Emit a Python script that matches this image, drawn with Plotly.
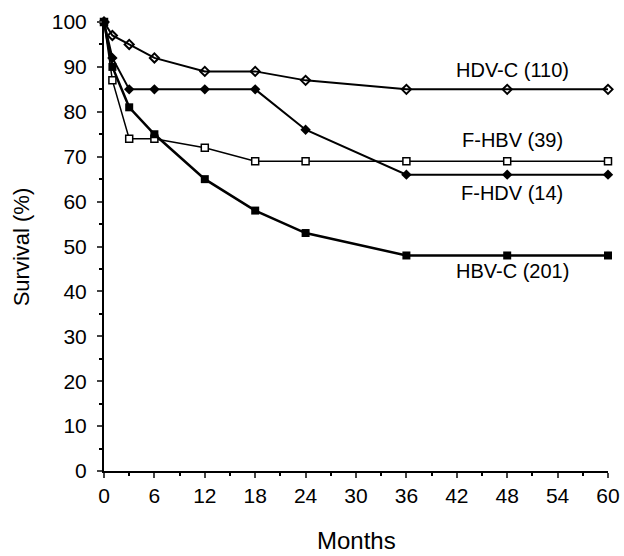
import plotly.graph_objects as go

months = [0, 1, 3, 6, 12, 18, 24, 36, 48, 60]
hdv_c = [100, 97, 95, 92, 89, 89, 87, 85, 85, 85]
f_hdv = [100, 92, 85, 85, 85, 85, 76, 66, 66, 66]
f_hbv = [100, 87, 74, 74, 72, 69, 69, 69, 69, 69]
hbv_c = [100, 90, 81, 75, 65, 58, 53, 48, 48, 48]

labels = ["HDV-C (110)", "F-HBV (39)", "F-HDV (14)", "HBV-C (201)"]
label_x = [48.6, 48.6, 48.6, 48.6]
label_y = [89.3, 73.7, 61.9, 44.5]

x_ticks = [0, 6, 12, 18, 24, 30, 36, 42, 48, 54, 60]
y_ticks = [0, 10, 20, 30, 40, 50, 60, 70, 80, 90, 100]

FONT = "Liberation Sans, Arial, Helvetica"

fig = go.Figure()
fig.add_trace(go.Scatter(x=months, y=hdv_c, mode="lines+markers", cliponaxis=False,
                         line=dict(color="black", width=2),
                         marker=dict(symbol="diamond-open", size=7, color="black", line=dict(width=2))))
fig.add_trace(go.Scatter(x=months, y=f_hdv, mode="lines+markers", cliponaxis=False,
                         line=dict(color="black", width=2),
                         marker=dict(symbol="diamond", size=8, color="black")))
fig.add_trace(go.Scatter(x=months, y=f_hbv, mode="lines+markers", cliponaxis=False,
                         line=dict(color="black", width=1.5),
                         marker=dict(symbol="square", size=7, color="white", line=dict(color="black", width=1.5))))
fig.add_trace(go.Scatter(x=months, y=hbv_c, mode="lines+markers", cliponaxis=False,
                         line=dict(color="black", width=2.5),
                         marker=dict(symbol="square", size=8, color="black")))

for t, lx, ly in zip(labels, label_x, label_y):
    fig.add_annotation(x=lx, y=ly, text=t, showarrow=False,
                       font=dict(family=FONT, size=20, color="black"))

fig.add_annotation(xref="paper", yref="paper", x=0.5, y=-0.155, text="Months",
                   showarrow=False, xanchor="center", yanchor="middle", borderpad=0,
                   font=dict(family=FONT, size=24, color="black"))
fig.add_annotation(xref="paper", yref="paper", x=-0.163, y=0.5, text="Survival (%)",
                   showarrow=False, xanchor="center", yanchor="middle", textangle=-90,
                   font=dict(family=FONT, size=22, color="black"))

fig.update_layout(
    width=624, height=556, showlegend=False,
    plot_bgcolor="white", paper_bgcolor="white",
    margin=dict(l=104, r=16, t=22, b=85, autoexpand=False),
    font=dict(family=FONT, color="black"),
)
fig.update_xaxes(range=[0, 60], tickvals=x_ticks, ticks="outside", ticklen=5, tickwidth=2,
                 showline=True, linecolor="black", linewidth=2, showgrid=False, zeroline=False,
                 automargin=False, ticklabelstandoff=0,
                 tickfont=dict(size=21),
                 minor=dict(dtick=3, ticks="outside", ticklen=3, tickwidth=1.5, tickcolor="black"))
fig.update_yaxes(range=[0, 100], tickvals=y_ticks, ticks="outside", ticklen=5, tickwidth=2,
                 showline=True, linecolor="black", linewidth=2, showgrid=False, zeroline=False,
                 automargin=False, ticklabelstandoff=6,
                 tickfont=dict(size=21),
                 minor=dict(dtick=5, ticks="outside", ticklen=3, tickwidth=1.5, tickcolor="black"))

fig.write_html("out.html", config={"displayModeBar": False},
               post_script="document.body.style.margin='0';")
